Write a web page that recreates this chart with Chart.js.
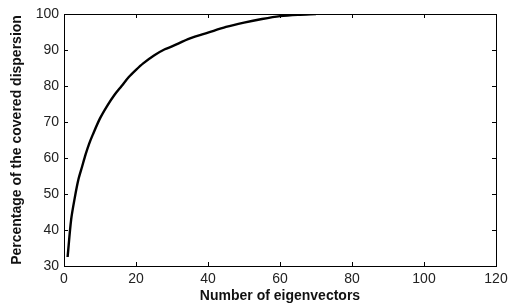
<!DOCTYPE html>
<html>
<head>
<meta charset="utf-8">
<script src="https://cdn.jsdelivr.net/npm/chart.js@4"></script>
<style>
  html, body { margin: 0; padding: 0; background: #fff; }
  #wrap { width: 513px; height: 305px; }
</style>
</head>
<body>
<div id="wrap"><canvas id="chart"></canvas></div>
<script>
/* data */
const eigenCount = [1, 2, 3, 4, 5, 6, 7, 8, 10, 12, 14, 16, 18, 20, 22, 25, 28, 30, 35, 40, 45, 50, 55, 60, 65, 70];
const coveredPct = [32.5, 43, 49, 54, 57.5, 61, 64, 66.5, 71, 74.5, 77.5, 80, 82.5, 84.5, 86.3, 88.5, 90.2, 91, 93.2, 94.8, 96.4, 97.6, 98.6, 99.4, 99.8, 100];
const xTicks = [0, 20, 40, 60, 80, 100, 120];
const yTicks = [30, 40, 50, 60, 70, 80, 90, 100];

const points = eigenCount.map((x, i) => ({ x: x, y: coveredPct[i] }));

/* box on top/right + inward tick marks, matlab style */
const boxTicks = {
    id: 'boxTicks',
    afterDraw(chart) {
        const ctx = chart.ctx;
        const a = chart.chartArea;
        const xs = chart.scales.x;
        const ys = chart.scales.y;
        const len = 4;
        ctx.save();
        ctx.strokeStyle = '#000';
        ctx.lineWidth = 1;
        ctx.beginPath();
        ctx.moveTo(a.left, a.top + 0.5);
        ctx.lineTo(a.right + 0.5, a.top + 0.5);
        ctx.lineTo(a.right + 0.5, a.bottom);
        xTicks.forEach(v => {
            const px = Math.round(xs.getPixelForValue(v)) + 0.5;
            ctx.moveTo(px, a.bottom);
            ctx.lineTo(px, a.bottom - len);
            ctx.moveTo(px, a.top);
            ctx.lineTo(px, a.top + len);
        });
        yTicks.forEach(v => {
            const py = Math.round(ys.getPixelForValue(v)) + 0.5;
            ctx.moveTo(a.left, py);
            ctx.lineTo(a.left + len, py);
            ctx.moveTo(a.right, py);
            ctx.lineTo(a.right - len, py);
        });
        ctx.stroke();
        ctx.restore();
    }
};

new Chart('chart', {
    type: 'line',
    data: {
        datasets: [{
            data: points,
            borderColor: '#000',
            borderWidth: 2.4,
            pointRadius: 0,
            tension: 0.3,
            fill: false
        }]
    },
    options: {
        responsive: true,
        maintainAspectRatio: false,
        animation: false,
        layout: { padding: { left: 0, right: 17, top: 14, bottom: 0 } },
        plugins: { legend: { display: false }, tooltip: { enabled: false } },
        scales: {
            x: {
                type: 'linear',
                min: 0,
                max: 120,
                afterBuildTicks: s => { s.ticks = xTicks.map(v => ({ value: v })); },
                afterFit: s => { s.height = 39; },
                grid: { display: false, drawTicks: false },
                border: { display: true, color: '#000', width: 1 },
                ticks: {
                    padding: 5,
                    color: '#222',
                    font: { family: 'Liberation Sans, Arial', size: 14 }
                },
                title: {
                    display: true,
                    text: 'Number of eigenvectors',
                    color: '#111',
                    padding: { top: 0, bottom: 0 },
                    font: { family: 'Liberation Sans, Arial', size: 14, weight: 'bold' }
                }
            },
            y: {
                min: 30,
                max: 100,
                afterBuildTicks: s => { s.ticks = yTicks.map(v => ({ value: v })); },
                afterFit: s => { s.width = 64; },
                grid: { display: false, drawTicks: false },
                border: { display: true, color: '#000', width: 1 },
                ticks: {
                    padding: 5,
                    color: '#222',
                    font: { family: 'Liberation Sans, Arial', size: 14 }
                },
                title: {
                    display: true,
                    text: 'Percentage of the covered dispersion',
                    color: '#111',
                    padding: { top: 9, bottom: 0 },
                    font: { family: 'Liberation Sans, Arial', size: 14, weight: 'bold' }
                }
            }
        }
    },
    plugins: [boxTicks]
});
</script>
</body>
</html>
